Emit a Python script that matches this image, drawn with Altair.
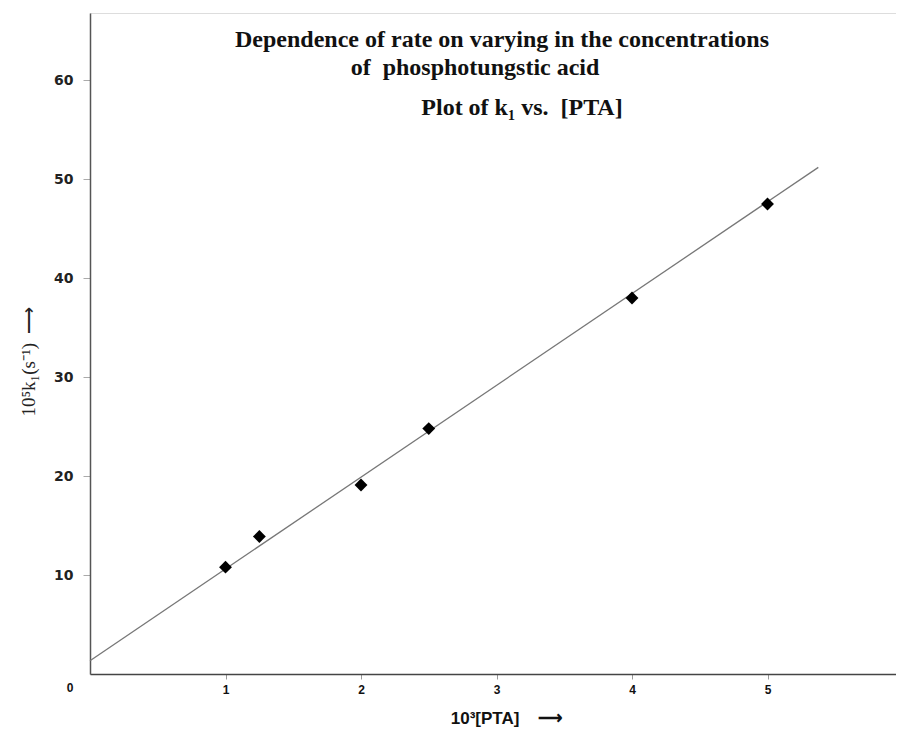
import altair as alt
import pandas as pd

# Data
pta = [1.0, 1.25, 2.0, 2.5, 4.0, 5.0]
k1 = [10.8, 13.9, 19.1, 24.8, 38.0, 47.5]

fit_x = [0.0, 5.375]
fit_y = [1.34, 51.2]

x_ticks = [1, 2, 3, 4, 5, 6]
y_ticks = [10, 20, 30, 40, 50, 60]

title_lines = [
    "Dependence of rate on varying in the concentrations",
    "of\u00a0\u00a0phosphotungstic acid",
    "Plot of k\u2081 vs.\u00a0\u00a0[PTA]",
]

pts = pd.DataFrame({"pta": pta, "k1": k1})
fit = pd.DataFrame({"pta": fit_x, "k1": fit_y})

W, H = 806, 661

xscale = alt.Scale(domain=[0, 6], range=[0, 813], nice=False, zero=True)
yscale = alt.Scale(domain=[0, 66.8], nice=False, zero=True)

xaxis = alt.Axis(
    values=x_ticks, format="d", grid=False,
    title="10\u00b3[PTA]\u00a0\u00a0\u00a0\u00a0\u27f6",
    titleFont="Liberation Sans", titleFontSize=17, titleFontWeight="bold",
    titleColor="#111", titleX=416, titleY=49, titleBaseline="alphabetic",
    titleAnchor="middle", titleAlign="center",
    labelFont="Liberation Sans", labelFontSize=12, labelFontWeight="bold",
    labelColor="#111", labelPadding=5, tickSize=5, tickColor="#999",
    domainColor="#444", domainWidth=1.5, labelFlush=False,
)
yaxis = alt.Axis(
    values=y_ticks, format="d", grid=False,
    title="10\u2075k\u2081(s\u207b\u00b9)\u00a0\u00a0\u27f6",
    titleFont="Liberation Serif", titleFontSize=19, titleFontWeight="normal",
    titleColor="#222", titleAngle=270, titleX=-62, titleY=348,
    titleBaseline="middle", titleAlign="center",
    labelFont="DejaVu Sans", labelFontSize=14, labelFontWeight="bold",
    labelColor="#222", labelPadding=10, tickSize=7, tickColor="#aaa",
    domainColor="#555", domainWidth=1.5,
)

line = alt.Chart(fit).mark_line(color="#777", strokeWidth=1.3).encode(
    x=alt.X("pta:Q", scale=xscale, axis=xaxis),
    y=alt.Y("k1:Q", scale=yscale, axis=yaxis),
)

points = alt.Chart(pts).mark_point(
    shape="diamond", filled=True, color="#000", size=165, opacity=1
).encode(x=alt.X("pta:Q", scale=xscale), y=alt.Y("k1:Q", scale=yscale))

zero = alt.Chart(pd.DataFrame({"pta": [0], "k1": [0], "t": ["0"]})).mark_text(
    font="Liberation Sans", fontSize=12, fontWeight="bold", color="#111",
    dx=-20, dy=14,
).encode(x=alt.X("pta:Q", scale=xscale), y=alt.Y("k1:Q", scale=yscale), text="t:N")

title_pos = [(412, 34), (385, 62), (432, 102)]
titles = []
for txt, (tx, ty) in zip(title_lines, title_pos):
    titles.append(
        alt.Chart(pd.DataFrame({"t": [txt]})).mark_text(
            font="Liberation Serif", fontSize=24, fontWeight="bold", color="#111",
            align="center", baseline="alphabetic",
        ).encode(x=alt.value(tx), y=alt.value(ty), text="t:N")
    )

chart = alt.layer(line, points, zero, *titles).properties(
    width=W, height=H,
    autosize=alt.AutoSizeParams(type="none"),
    padding={"left": 82, "top": 5, "right": 0, "bottom": 55},
).configure_view(stroke="#999", strokeWidth=1.2).configure(background="white")

chart.save("out.html", embed_options={"renderer": "svg", "actions": False})
